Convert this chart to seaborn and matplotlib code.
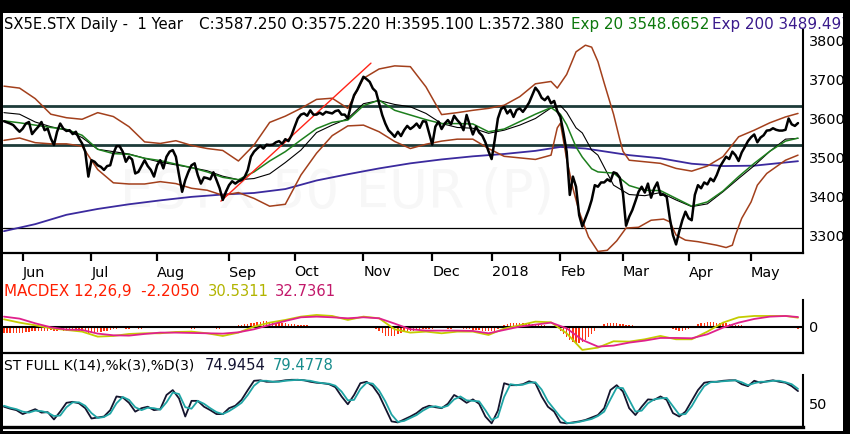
import numpy as np
import pandas as pd
import matplotlib
matplotlib.use("Agg")
import matplotlib.pyplot as plt
import seaborn as sns
from matplotlib.patches import Rectangle

W, H = 850, 434

# ---------------- data ----------------
holidays = ["2017-12-25", "2017-12-26", "2018-01-01", "2018-03-30", "2018-04-02", "2018-05-01"]
dates = pd.bdate_range("2017-05-24", "2018-05-23")
dates = dates[~dates.isin(pd.to_datetime(holidays))]

close = [
    3592, 3589, 3586, 3582, 3573, 3565, 3573, 3586, 3590, 3559,
    3569, 3578, 3590, 3569, 3573, 3548, 3531, 3565, 3586, 3573,
    3567, 3569, 3559, 3565, 3548, 3535, 3514, 3450, 3492, 3488,
    3479, 3475, 3467, 3477, 3479, 3509, 3528, 3528, 3514, 3488,
    3501, 3494, 3458, 3462, 3477, 3492, 3477, 3467, 3450, 3479,
    3492, 3471, 3501, 3514, 3518, 3501, 3454, 3411, 3441, 3462,
    3479, 3484, 3454, 3432, 3448, 3446, 3443, 3461, 3441, 3420,
    3390, 3411, 3428, 3438, 3432, 3438, 3441, 3449, 3467, 3501,
    3514, 3522, 3529, 3522, 3532, 3531, 3532, 3538, 3541, 3534,
    3546, 3541, 3556, 3578, 3599, 3609, 3612, 3606, 3620, 3609,
    3609, 3614, 3609, 3616, 3614, 3612, 3618, 3620, 3609, 3609,
    3599, 3633, 3659, 3672, 3689, 3706, 3700, 3693, 3676, 3668,
    3638, 3608, 3586, 3569, 3561, 3552, 3565, 3554, 3569, 3580,
    3572, 3578, 3586, 3575, 3592, 3591, 3561, 3532, 3578, 3591,
    3572, 3586, 3595, 3584, 3606, 3595, 3586, 3569, 3608, 3582,
    3558, 3578, 3563, 3555, 3538, 3515, 3495, 3544, 3599, 3623,
    3629, 3612, 3621, 3603, 3621, 3625, 3616, 3627, 3640, 3659,
    3678, 3668, 3652, 3646, 3655, 3638, 3644, 3618, 3603, 3561,
    3514, 3403, 3450, 3424, 3351, 3322, 3343, 3364, 3390, 3428,
    3424, 3435, 3435, 3443, 3438, 3461, 3458, 3447, 3407, 3324,
    3347, 3364, 3387, 3411, 3424, 3409, 3432, 3396, 3420, 3435,
    3403, 3404, 3398, 3343, 3300, 3276, 3309, 3338, 3360, 3343,
    3338, 3403, 3428, 3420, 3435, 3430, 3445, 3438, 3454, 3475,
    3488, 3501, 3495, 3514, 3505, 3490, 3512, 3526, 3541, 3551,
    3558, 3538, 3550, 3556, 3568, 3569, 3574, 3570, 3568, 3568,
    3570, 3599, 3584, 3580, 3587.25,
]

upper_days = [0, 5, 10, 15, 20, 25, 30, 35, 40, 45, 50, 55, 60, 65, 70, 75, 80, 85, 90, 95,
              100, 105, 110, 115, 120, 125, 130, 135, 140, 145, 150, 155, 160, 165, 170, 175,
              177, 180, 183, 186, 188, 190, 192, 195, 197, 198, 200, 205, 210, 215, 220, 225,
              230, 235, 240, 245, 250, 254]
bb_upper = [3682, 3677, 3650, 3610, 3601, 3597, 3614, 3604, 3578, 3539, 3535, 3542, 3530, 3522,
            3517, 3490, 3531, 3589, 3605, 3625, 3648, 3651, 3625, 3702, 3726, 3734, 3732, 3680,
            3609, 3614, 3620, 3625, 3633, 3655, 3688, 3694, 3677, 3712, 3770, 3787, 3782, 3745,
            3690, 3610, 3545, 3515, 3492, 3488, 3484, 3471, 3464, 3477, 3501, 3552, 3569, 3588,
            3603, 3612]

lower_days = [0, 5, 10, 15, 20, 25, 30, 35, 40, 45, 50, 55, 60, 65, 70, 75, 80, 85, 90, 95,
              100, 105, 110, 115, 120, 125, 130, 135, 140, 145, 150, 155, 160, 165, 170, 175,
              176, 177, 178, 180, 182, 184, 187, 190, 193, 196, 199, 203, 207, 211, 213, 215,
              218, 222, 228, 231, 233, 234, 236, 239, 241, 244, 247, 250, 254]
bb_lower = [3543, 3549, 3537, 3534, 3534, 3528, 3468, 3434, 3431, 3431, 3437, 3432, 3420, 3415,
            3402, 3409, 3394, 3374, 3379, 3454, 3510, 3555, 3580, 3582, 3565, 3540, 3522, 3533,
            3541, 3546, 3546, 3522, 3502, 3498, 3494, 3505, 3540, 3575, 3587, 3495, 3420, 3360,
            3295, 3258, 3261, 3285, 3318, 3320, 3338, 3341, 3334, 3300, 3287, 3283, 3274, 3268,
            3274, 3300, 3343, 3385, 3428, 3458, 3475, 3492, 3505]

avg_days = [0, 5, 10, 15, 20, 25, 30, 35, 40, 45, 50, 55, 60, 65, 70, 75, 80, 85, 90, 95,
            100, 105, 110, 115, 120, 125, 130, 135, 140, 145, 150, 155, 160, 165, 170, 175,
            178, 180, 183, 185, 188, 190, 195, 200, 205, 210, 215, 220, 225, 230, 235, 240,
            245, 250, 254]
sma20 = [3614, 3610, 3590, 3578, 3569, 3550, 3520, 3514, 3508, 3497, 3487, 3480, 3473, 3465,
         3451, 3442, 3445, 3457, 3486, 3518, 3563, 3582, 3599, 3637, 3645, 3635, 3629, 3612,
         3586, 3576, 3574, 3561, 3569, 3582, 3599, 3626, 3632, 3615, 3575, 3562, 3518, 3505,
         3428, 3404, 3401, 3409, 3390, 3373, 3380, 3411, 3445, 3478, 3515, 3546, 3548]
ema20 = [3593, 3588, 3582, 3576, 3571, 3556, 3520, 3509, 3507, 3497, 3491, 3482, 3473, 3462,
         3448, 3442, 3462, 3490, 3514, 3544, 3573, 3589, 3595, 3632, 3646, 3620, 3608, 3596,
         3586, 3586, 3585, 3565, 3572, 3591, 3610, 3627, 3610, 3583, 3526, 3500, 3470, 3462,
         3459, 3427, 3415, 3414, 3394, 3374, 3385, 3413, 3450, 3484, 3515, 3541, 3548.67]

ema200_days = [0, 10, 20, 30, 40, 50, 60, 70, 80, 90, 100, 110, 120, 130, 140, 150, 160, 170,
               178, 186, 200, 210, 220, 230, 240, 254]
ema200 = [3310, 3328, 3352, 3367, 3379, 3389, 3398, 3404, 3408, 3418, 3440, 3456, 3471, 3484,
          3494, 3502, 3508, 3516, 3526, 3522, 3505, 3497, 3483, 3477, 3478, 3489.5]

trend_days = [69.4, 117.4]
trend_vals = [3387, 3741]
levels = [3630, 3530, 3318]

macd_days = list(range(0, 251, 5)) + [254]
macd_line = [25.3, 14.3, 5.5, -4.4, -9.9, -15.4, -31.9, -29.7, -23.1, -20.9, -20.9, -16.5, -15.4,
             -20.9, -29.7, -18.7, 1.1, 14.3, 23.1, 34.1, 39.6, 36.3, 23.1, 34.1, 28.6, -7.7,
             -18.7, -15.4, -20.9, -15.4, -15.4, -26.4, -5.5, 5.5, 17.6, 15.4, -20.9, -75.9,
             -68.2, -47.3, -48.4, -40.7, -29.7, -40.7, -40.7, -15.4, 14.3, 31.9, 36.3, 36.3,
             36.3, 30.53]
macd_signal = [34.1, 27.5, 12.1, -1.1, -8.8, -9.9, -22.0, -27.5, -28.6, -23.1, -18.7, -18.7,
               -19.8, -20.9, -22.0, -17.6, -7.7, 6.6, 19.8, 31.9, 34.1, 31.9, 28.6, 31.9, 28.6,
               11.0, -7.7, -12.1, -12.1, -12.1, -13.2, -20.9, -9.9, 1.1, 7.7, 14.3, -4.4, -42.9,
               -64.9, -61.6, -51.7, -45.1, -36.3, -36.3, -37.4, -24.2, -2.2, 14.3, 26.4, 34.1,
               36.3, 32.74]
macd_hist = [
    -8, -9, -9, -8, -8, -9, -8, -7, -7, -6, -6, -5, -5, -5,
    -5, -4, -5, -5, -4, -5, -5, -4, -4, -5, -5, -6, -6,
    -8, -9, -8, -7, -7, -6, -5, -4,
    -3, -3, -2, -2, -3, -3, -2, -2, -3, -3, -2, -2, -2, -1, -1, -1,
    -1, -1, 0, -1, -2, -2, -1, -1, -2, -3, -3, -2, -2, -1, -1, -2, -2, -3, -3, -2, -1, -1, 1, 2,
    3, 3, 4, 4, 5, 6,
    7, 7, 8, 8, 7, 7, 6, 6, 6, 5, 4,
    4, 4, 3, 3, 3, 3, 2, 2, 2, 1, 1, 0,
    -1, -1, -2, -2, -2, -1, -1, -1, 0,
    1, 2, 2, 2, 1, 0,
    -3, -6, -9, -12, -13, -13, -12, -10, -8,
    -7, -6, -6, -5, -4, -4, -3, -3,
    -3, -3, -2, -2, -2, -2, -3, -3, -2, -2, -2, -3, -3, -3, -4, -4, -4, -5, -5,
    -6, -6, -5, -3,
    1, 3, 4, 5, 5, 5, 5, 5, 5, 5, 4, 4, 4, 3, 3, 2, 1, 0, -2,
    -6, -10, -14, -18, -21, -22, -22, -21, -18, -14, -10, -6, -2,
    2, 4, 5, 5, 5, 5, 4, 4,
    3, 3, 3, 2, 2, 2, 2, 2, 2, 2, 1, 1, 1, 0, -2, -3, -4,
    -5, -5, -4, -3, -1,
    2, 4, 5, 6, 7, 7, 7, 6, 6, 5, 5,
    4, 4, 3, 3, 3, 2, 2, 1, 1, 0,
    -1, -1, -1, -2, -2, -2, -2, -2, -2, -2, -2, -2, -2.205,
]

stoch_days = list(range(0, 255, 2))
stoch_k = [43, 39, 36, 28, 33, 38, 31, 32, 17, 33, 51, 53, 50, 40, 19, 21,
           23, 36, 64, 62, 51, 33, 40, 43, 36, 38, 67, 77, 60, 23, 55, 55,
           43, 36, 28, 28, 40, 45, 57, 77, 96, 97, 94, 94, 95, 97, 98, 98,
           97, 94, 92, 91, 89, 83, 64, 48, 67, 91, 94, 85, 67, 40, 13, 11,
           17, 23, 30, 40, 45, 42, 40, 49, 67, 60, 51, 58, 49, 23, 9, 35,
           91, 87, 87, 89, 95, 91, 64, 43, 33, 11, 9, 11, 13, 16, 21, 26,
           40, 77, 87, 74, 40, 26, 43, 58, 57, 64, 57, 30, 23, 33, 55, 77,
           92, 94, 94, 96, 97, 97, 89, 85, 96, 92, 95, 97, 94, 92, 85, 74.95]
stoch_d = [45, 41, 38, 33, 31, 35, 34, 31, 24, 25, 42, 52, 52, 45, 30, 20,
           22, 29, 50, 63, 57, 42, 36, 41, 40, 37, 52, 72, 69, 42, 39, 55,
           49, 40, 32, 28, 34, 42, 51, 67, 86, 96, 96, 94, 94, 96, 97, 98,
           97, 96, 93, 91, 90, 86, 74, 56, 57, 79, 92, 90, 76, 54, 27, 12,
           14, 20, 26, 35, 42, 44, 41, 45, 58, 64, 56, 55, 54, 36, 16, 22,
           63, 89, 87, 88, 92, 93, 78, 54, 38, 22, 10, 10, 12, 15, 18, 24,
           33, 58, 82, 81, 57, 33, 35, 50, 58, 60, 61, 44, 27, 28, 44, 66,
           85, 93, 94, 95, 96, 97, 93, 87, 91, 94, 94, 96, 96, 93, 89, 79.48]

price_ticks = [3300, 3400, 3500, 3600, 3700, 3800]

# colours
BAND = "#a3401c"
GREEN = "#1d7f1d"
INDIGO = "#3b2a9e"
LEVEL = "#1d3b39"

# ---------------- figure ----------------
sns.set_theme(style="white", rc={"text.color": "black", "xtick.color": "black",
                                 "ytick.color": "black", "axes.edgecolor": "black"})
plt.rcParams["font.family"] = ["DejaVu Sans"]

fig = plt.figure(figsize=(W / 100, H / 100), dpi=100, facecolor="black")
fig.add_artist(Rectangle((3 / W, 1 - 431 / H), 840 / W, 418 / H, transform=fig.transFigure,
                         facecolor="white", edgecolor="none", zorder=-5))


def panel(top, bottom):
    a = fig.add_axes([3 / W, 1 - bottom / H, 800 / W, (bottom - top) / H])
    a.set_facecolor("none")
    a.set_xlim(-0.3, 255.6)
    for s in ["top", "left"]:
        a.spines[s].set_visible(False)
    a.spines["right"].set_linewidth(1.5)
    a.spines["bottom"].set_linewidth(1.6)
    a.yaxis.tick_right()
    a.tick_params(axis="y", length=0, pad=4, labelsize=10.4)
    return a


def label(x_px, y_px, s, color, size=10.6):
    fig.text(x_px / W, 1 - y_px / H, s, color=color, fontsize=size, va="center", ha="left")


x = np.arange(len(close))

# main price panel
ax = panel(30, 253)
ax.set_ylim(3254, 3826)
ax.text(120 / W, 1 - 192 / H, "ESTX 50 EUR (P)", transform=fig.transFigure, fontsize=38,
        color="#f7f7f7", va="center", ha="left", zorder=0.5)
for lv, c, lw in zip(levels, [LEVEL, LEVEL, "black"], [2.0, 2.0, 0.9]):
    ax.axhline(lv, color=c, lw=lw, zorder=1)
sns.lineplot(x=ema200_days, y=ema200, ax=ax, color=INDIGO, lw=1.3, zorder=2)
sns.lineplot(x=upper_days, y=bb_upper, ax=ax, color=BAND, lw=1.1, zorder=2)
sns.lineplot(x=lower_days, y=bb_lower, ax=ax, color=BAND, lw=1.1, zorder=2)
sns.lineplot(x=avg_days, y=sma20, ax=ax, color="black", lw=0.8, zorder=3)
sns.lineplot(x=avg_days, y=ema20, ax=ax, color=GREEN, lw=1.1, zorder=3)
sns.lineplot(x=trend_days, y=trend_vals, ax=ax, color="#ff2418", lw=1.0, zorder=3)
sns.lineplot(x=x, y=close, ax=ax, color="black", lw=1.8, zorder=4)
ax.set_yticks(price_ticks)

month_pos, month_lbl = [], []
for i in range(1, len(dates)):
    if dates[i].month != dates[i - 1].month:
        month_pos.append(i)
        month_lbl.append(str(dates[i].year) if dates[i].month == 1 else dates[i].strftime("%b"))
ax.set_xticks(month_pos)
ax.set_xticklabels(month_lbl, ha="left")
ax.tick_params(axis="x", bottom=True, direction="out", length=6, width=1.6, pad=3,
               labelsize=10.4)
ax.set_xlabel("")
ax.set_ylabel("")

label(4, 24.5, "SX5E.STX Daily -  1 Year", "black")
label(199, 24.5, "C:3587.250 O:3575.220 H:3595.100 L:3572.380", "black", 10.9)
label(571, 24.5, "Exp 20 3548.6652", "#0c780c", 10.9)
label(712, 24.5, "Exp 200 3489.497", "#3a1a8c", 10.9)

# MACD panel
axm = panel(300, 353)
axm.set_ylim(-86, 89)
hist_scale = 2.4
axm.bar(x, np.array(macd_hist) * hist_scale, width=0.45, color="#ff3412", linewidth=0,
        zorder=1)
axm.axhline(0, color="black", lw=1.5, zorder=2)
sns.lineplot(x=macd_days, y=macd_line, ax=axm, color="#c4cc00", lw=1.3, zorder=3)
sns.lineplot(x=macd_days, y=macd_signal, ax=axm, color="#e0208c", lw=1.3, zorder=3)
axm.set_xticks([])
axm.set_yticks([0])
axm.set_xlabel("")
axm.set_ylabel("")
label(4, 291.5, "MACDEX 12,26,9  -2.2050", "#ff1e00", 10.9)
label(208, 291.5, "30.5311", "#b2b400")
label(275, 291.5, "32.7361", "#c2186a")

# stochastic panel
axs = panel(375, 427)
axs.set_ylim(1.6, 107.8)
sns.lineplot(x=stoch_days, y=stoch_k, ax=axs, color="#15152e", lw=1.3, zorder=3)
sns.lineplot(x=stoch_days, y=stoch_d, ax=axs, color="#1fa5a5", lw=1.3, zorder=3)
axs.spines["bottom"].set_linewidth(2.4)
axs.set_xticks([])
axs.set_yticks([50])
axs.set_xlabel("")
axs.set_ylabel("")
label(4, 366, "ST FULL K(14),%k(3),%D(3)", "black", 10.0)
label(205, 366, "74.9454", "#141432")
label(273, 366, "79.4778", "#178c8c")

# black frame strip on the right edge clips the long title line
fig.add_artist(Rectangle((843 / W, 0), 7 / W, 1, transform=fig.transFigure,
                         facecolor="black", edgecolor="none", zorder=10))

fig.savefig("out.png", dpi=100, facecolor="black")
